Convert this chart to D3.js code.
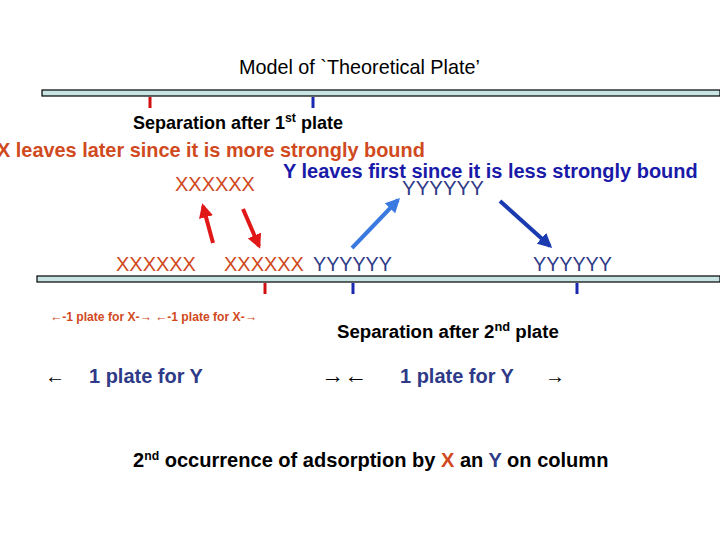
<!DOCTYPE html>
<html>
  <head>
    <meta charset="utf-8">
    <script src="https://d3js.org/d3.v7.min.js"></script>
    <style>body{margin:0;background:#fff} text{font-family:Arial,"Liberation Sans",sans-serif}</style>
  </head>
  <body>
    <div id="chart"></div>
    <script>
      var ORANGE = "#d04a1e", NAVY = "#2e3a87", BLUE = "#1a1aa8";
      // column bars (x0, x1, y)
      var bars = [[42, 720, 90], [37, 720, 276]];
      var ticks = [[150, 97, "#d01010"], [313, 97, "#1a2ab0"], [265, 283, "#d01010"], [353, 283, "#1a2ab0"], [577, 283, "#1a2ab0"]];
      // text, x, baseline, size, weight, colour, target width
      var labels = [
        ["Model of `Theoretical Plate’", 239, 74, 16, "normal", "#000", 241],
        ["Separation after 1st plate", 133, 129, 16, "bold", "#000", 210],
        ["X leaves later since it is more strongly bound", -3, 157, 18, "bold", ORANGE, 428],
        ["Y leaves first since it is less strongly bound", 283, 178, 18, "bold", BLUE, 415],
        ["XXXXXX", 175, 191, 18, "normal", ORANGE, 80],
        ["YYYYYY", 402, 195, 18, "normal", NAVY, 82],
        ["XXXXXX", 116, 271, 18, "normal", ORANGE, 80],
        ["XXXXXX", 224, 271, 18, "normal", ORANGE, 80],
        ["YYYYYY", 313, 271, 18, "normal", NAVY, 79],
        ["YYYYYY", 533, 271, 18, "normal", NAVY, 79],
        ["←-1 plate for X-→  ←-1 plate for X-→", 50, 321, 11, "bold", ORANGE, 207],
        ["Separation after 2nd plate", 337, 338, 16, "bold", "#000", 222],
        ["←", 45, 383, 18, "normal", "#000", 20],
        ["1 plate for Y", 89, 383, 18, "bold", NAVY, 114],
        ["→←", 321, 383, 18, "bold", "#000", 46],
        ["1 plate for Y", 400, 383, 18, "bold", NAVY, 114],
        ["→", 545, 383, 18, "bold", "#000", 20]
      ];
      var arrows = [[213, 243, 203, 206, "#e01818"], [243, 209, 259, 246, "#e01818"],
                    [352, 248, 398, 200, "#3a7ae0"], [500, 201, 550, 246, "#1a3ab0"]];

      var svg = d3.select("#chart").append("svg").attr("width", 720).attr("height", 540);
      var defs = svg.append("defs");
      arrows.forEach(function(a, i) {
        defs.append("marker").attr("id", "m" + i).attr("viewBox", "0 0 10 10")
          .attr("refX", 8).attr("refY", 5).attr("markerWidth", 3.6).attr("markerHeight", 3.6)
          .attr("orient", "auto").append("path").attr("d", "M0,0L10,5L0,10z").attr("fill", a[4]);
      });
      svg.selectAll(".bar").data(bars).enter().append("rect")
        .attr("x", function(d) { return d[0]; }).attr("y", function(d) { return d[2]; })
        .attr("width", function(d) { return d[1] - d[0]; }).attr("height", 6)
        .attr("fill", "#c8e4e4").attr("stroke", "#000").attr("stroke-width", 1.2);
      svg.selectAll(".tick").data(ticks).enter().append("line")
        .attr("x1", function(d) { return d[0]; }).attr("x2", function(d) { return d[0]; })
        .attr("y1", function(d) { return d[1]; }).attr("y2", function(d) { return d[1] + 11; })
        .attr("stroke", function(d) { return d[2]; }).attr("stroke-width", 3);
      svg.selectAll(".arr").data(arrows).enter().append("line")
        .attr("x1", function(d) { return d[0]; }).attr("y1", function(d) { return d[1]; })
        .attr("x2", function(d) { return d[2]; }).attr("y2", function(d) { return d[3]; })
        .attr("stroke", function(d) { return d[4]; }).attr("stroke-width", 4)
        .attr("marker-end", function(d, i) { return "url(#m" + i + ")"; });

      function fit(el, target, base) {
        var w = el.node().getComputedTextLength();
        var k = target / w;
        el.attr("font-size", base * k);
        el.selectAll("tspan.sup").attr("font-size", 11 * k).attr("dy", -6 * k);
        el.selectAll("tspan.down").attr("dy", 6 * k);
      }
      var t = svg.selectAll(".lbl").data(labels).enter().append("text")
        .attr("x", function(d) { return d[1]; }).attr("y", function(d) { return d[2]; })
        .attr("font-size", function(d) { return d[3]; }).attr("font-weight", function(d) { return d[4]; })
        .attr("fill", function(d) { return d[5]; });
      t.each(function(d) {
        var el = d3.select(this), m = d[0].match(/^(.*?\d)(st|nd)( .*)$/);
        if (m) {
          el.append("tspan").text(m[1]);
          el.append("tspan").attr("class", "sup").attr("font-size", 11).attr("dy", -6).text(m[2]);
          el.append("tspan").attr("class", "down").attr("dy", 6).text(m[3]);
        } else el.text(d[0]);
        fit(el, d[6], d[3]);
      });
      var bottom = svg.append("text").attr("x", 133).attr("y", 467).attr("font-size", 18).attr("font-weight", "bold");
      [["2", "#000", 0, ""], ["nd", "#000", -6, "sup"], [" occurrence of adsorption by ", "#000", 6, "down"], ["X", ORANGE, 0, ""],
       [" an ", "#000", 0, ""], ["Y", NAVY, 0, ""], [" on column", "#000", 0, ""]].forEach(function(p) {
        var s = bottom.append("tspan").attr("class", p[3]).attr("fill", p[1]).attr("dy", p[2]).text(p[0]);
        if (p[3] == "sup") s.attr("font-size", 11);
      });
      fit(bottom, 476, 18);
    </script>
  </body>
</html>
